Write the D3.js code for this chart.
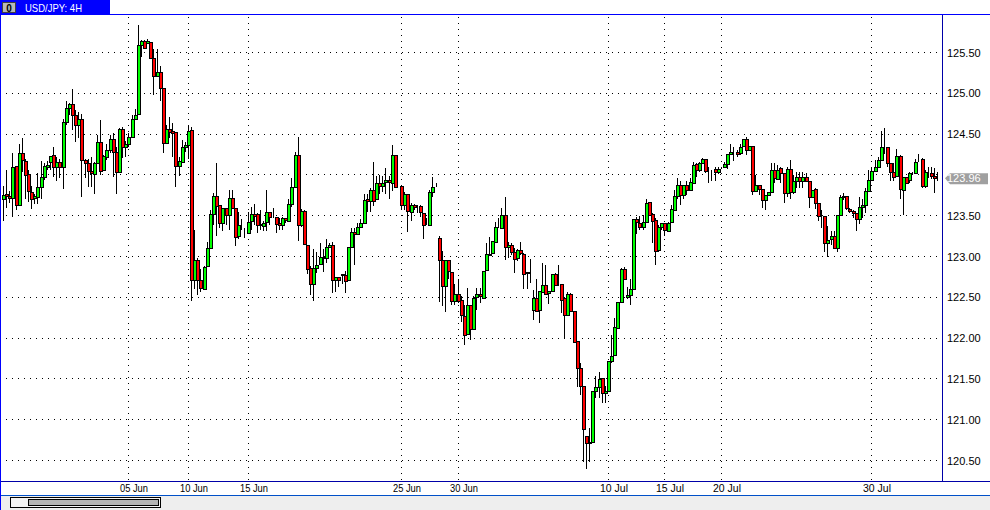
<!DOCTYPE html>
<html><head><meta charset="utf-8">
<script src="https://cdn.jsdelivr.net/npm/d3@7/dist/d3.min.js"></script>
<style>html,body{margin:0;padding:0;background:#fff;overflow:hidden}svg{display:block}text{font-family:"Liberation Sans",Arial,sans-serif}</style>
</head><body><svg id="c" width="990" height="510"></svg>
<script>
const symbol = "USD/JPY: 4H";
const lastPrice = 123.96;
const priceTicks = [120.5,121,121.5,122,122.5,123,123.5,124,124.5,125,125.5];
const dateTickIndex = [40,59,78,127,145,193,211,229,277];
const dateLabels = ["05 Jun","10 Jun","15 Jun","25 Jun","30 Jun","10 Jul","15 Jul","20 Jul","30 Jul"];
const opens = [
123.70,123.76,123.74,123.71,124.10,123.62,124.26,124.17,124.00,123.79,
123.71,123.73,123.85,123.97,124.10,124.16,124.24,124.09,124.15,124.09,
124.64,124.81,124.86,124.73,124.61,124.68,124.18,124.14,124.04,124.01,
124.14,124.40,124.05,124.22,124.30,124.43,124.27,124.03,124.56,124.33,
124.37,124.46,124.68,124.73,125.58,125.63,125.62,125.62,125.43,125.21,
125.26,125.06,124.39,124.56,124.53,124.52,124.10,124.16,124.34,124.36,
124.54,122.70,122.95,122.70,122.60,122.88,123.10,123.52,123.74,123.63,
123.41,123.59,123.50,123.71,123.59,123.24,123.39,123.285,123.29,123.42,
123.52,123.52,123.38,123.37,123.42,123.54,123.485,123.48,123.40,123.38,
123.46,123.43,123.64,123.85,124.24,123.38,123.55,123.14,122.85,122.66,
122.85,122.90,122.99,122.98,123.11,123.13,122.70,122.74,122.78,122.77,
122.70,123.11,123.29,123.27,123.36,123.41,123.70,123.68,123.81,123.70,
123.90,123.86,123.90,123.93,123.90,124.24,null,123.86,123.63,123.76,
123.55,123.63,123.60,123.61,123.53,123.38,123.38,123.79,123.85,123.225,
122.95,122.63,122.95,122.81,122.455,122.54,122.455,122.27,122.04,122.40,
122.11,122.49,122.53,122.49,122.82,123.02,123.03,123.18,123.36,123.35,
123.505,123.11,123.14,123.05,122.97,123.07,123.03,122.785,122.815,122.34,
122.49,122.33,122.565,122.65,122.54,122.58,122.785,122.655,122.655,122.48,
122.28,122.54,122.33,121.955,121.625,121.41,120.80,120.71,120.71,121.34,
121.39,121.50,121.32,121.34,121.71,121.78,122.125,122.44,122.84,122.50,
122.52,122.59,123.45,123.41,123.36,123.42,123.66,123.52,123.44,123.07,
123.35,123.40,123.31,123.41,123.57,123.74,123.87,123.75,123.87,123.81,
123.905,124.125,124.05,124.14,124.19,124.05,124.05,124.07,124.03,124.085,
124.09,124.13,124.25,124.26,124.27,124.26,124.345,124.435,124.30,124.345,
123.795,123.87,123.82,123.685,123.75,123.785,124.05,123.955,124.08,124.02,
123.775,124.07,123.79,123.925,123.97,123.925,123.97,123.925,123.726,123.82,
123.645,123.49,123.49,123.16,123.205,123.245,123.10,123.50,123.72,123.73,
123.58,123.55,123.53,123.457,123.604,123.63,123.80,123.93,124.04,124.09,
124.18,124.335,124.335,124.14,124.03,123.97,124.22,123.815,123.97,123.93,
124.02,124.02,124.16,124.19,123.855,124.03,124.02,123.985,123.96];
const highs = [
123.86,124.06,123.80,124.27,124.10,124.38,124.45,124.20,124.06,123.86,
123.77,124.02,124.165,124.15,124.17,124.23,124.34,124.22,124.20,124.68,
124.91,124.88,125.05,124.79,124.77,124.75,124.20,124.20,124.22,124.16,
124.49,124.67,124.24,124.38,124.49,124.51,124.34,124.57,124.59,124.42,
124.51,124.73,124.81,125.84,125.65,125.65,125.66,125.63,125.54,125.54,
125.34,125.06,124.61,124.71,124.63,124.53,124.22,124.43,124.40,124.61,
124.59,123.33,122.98,122.85,122.88,123.18,123.57,123.78,124.14,123.63,
123.59,123.60,123.82,123.81,123.59,123.55,123.46,123.35,123.55,123.61,
123.64,123.53,123.57,123.43,123.82,123.55,123.59,123.49,123.47,123.48,
123.47,123.70,123.96,124.28,124.46,123.58,123.57,123.14,122.88,123.09,
123.06,123.16,123.09,123.21,123.16,123.18,122.74,122.74,122.79,122.82,
123.11,123.35,123.35,123.41,123.46,123.77,123.77,123.84,124.16,123.99,
124.00,123.99,124.09,123.99,124.365,124.24,null,123.86,123.79,123.77,
123.65,123.64,123.63,123.63,123.53,123.47,123.82,123.98,123.90,123.25,
123.07,122.95,122.95,122.81,122.66,122.72,122.51,122.41,122.61,122.41,
122.51,122.61,122.61,122.82,123.16,123.24,123.18,123.42,123.47,123.59,
123.725,123.18,123.16,123.10,123.09,123.18,123.04,122.80,122.97,122.59,
122.72,122.565,122.92,122.90,122.57,122.785,122.80,122.89,122.66,122.49,
122.57,122.55,122.33,121.955,121.69,121.41,120.80,120.90,121.34,121.53,
121.58,121.51,121.41,121.71,122.04,122.25,122.44,122.86,122.87,122.63,
122.72,123.45,123.49,123.50,123.51,123.71,123.66,123.53,123.47,123.39,
123.40,123.40,123.42,123.63,123.81,123.96,123.92,123.88,123.92,123.96,
124.16,124.14,124.16,124.21,124.20,124.10,124.06,124.10,124.10,124.10,
124.16,124.26,124.38,124.34,124.30,124.38,124.44,124.47,124.35,124.35,
124.00,123.88,123.83,123.75,123.79,124.14,124.14,124.12,124.10,124.02,
124.10,124.18,124.00,124.04,124.04,124.04,124.02,123.93,123.81,123.84,
123.645,123.57,123.49,123.37,123.31,123.31,123.50,123.75,123.78,123.74,
123.59,123.57,123.53,123.725,123.71,123.84,124.06,124.10,124.18,124.22,
124.54,124.57,124.335,124.14,124.14,124.32,124.24,123.97,123.97,124.04,
124.04,124.20,124.26,124.21,124.06,124.10,124.10,124.08,124.04];
const lows = [
123.43,123.60,123.66,123.48,123.57,123.62,124.04,123.71,123.67,123.58,
123.64,123.64,123.70,123.94,124.06,124.06,123.98,123.92,123.96,123.83,
124.61,124.73,124.55,124.40,124.45,123.73,123.96,123.85,123.85,123.77,
124.14,124.00,124.05,124.18,124.27,123.97,123.77,124.03,124.21,124.22,
124.34,124.46,124.67,124.73,125.44,125.55,125.60,125.43,124.98,125.21,
124.91,124.27,124.39,124.45,124.22,123.85,123.99,124.14,124.28,124.20,
122.45,122.60,122.53,122.56,122.60,122.88,123.10,123.39,123.25,123.35,
123.31,123.39,123.33,123.59,123.13,123.22,123.33,123.225,123.29,123.33,
123.39,123.29,123.33,123.31,123.31,123.39,123.47,123.29,123.33,123.33,
123.41,123.43,123.61,123.85,123.19,123.36,123.14,122.79,122.53,122.46,
122.80,122.90,122.81,122.92,123.10,122.55,122.56,122.63,122.66,122.55,
122.70,123.11,122.90,123.27,123.36,123.41,123.54,123.54,123.62,123.70,
123.77,123.79,123.77,123.71,123.80,123.85,null,123.57,123.57,123.30,
123.43,123.57,123.53,123.48,123.22,123.38,123.38,123.73,123.85,122.44,
122.39,122.32,122.72,122.40,122.40,122.43,122.20,121.92,122.04,121.98,
122.11,122.35,122.43,122.49,122.82,123.02,123.03,123.18,123.35,123.35,
122.96,122.98,123.02,122.80,122.94,123.02,122.60,122.60,122.68,122.22,
122.33,122.19,122.565,122.53,122.42,122.57,122.655,122.64,122.31,122.00,
122.28,122.33,121.95,121.40,121.30,120.48,120.40,120.48,120.71,121.27,
121.27,121.20,121.20,121.34,121.70,121.78,122.125,122.44,122.72,122.48,
122.40,122.59,123.27,123.33,123.33,123.42,123.505,123.17,122.90,123.05,
123.33,123.25,123.30,123.41,123.57,123.71,123.63,123.71,123.75,123.81,
123.905,123.98,124.04,124.14,124.02,123.90,123.92,123.92,124.01,124.07,
124.08,124.07,124.25,124.17,124.22,124.25,124.34,124.24,124.30,123.75,
123.79,123.75,123.59,123.57,123.75,123.78,123.90,123.95,123.90,123.66,
123.73,123.71,123.77,123.84,123.84,123.84,123.92,123.59,123.726,123.58,
123.43,123.35,123.06,123.00,123.14,123.10,123.06,123.50,123.69,123.57,
123.53,123.47,123.315,123.40,123.47,123.53,123.80,123.92,124.04,124.09,
124.18,124.26,124.10,123.92,123.92,123.97,123.705,123.51,123.89,123.90,
124.00,124.02,124.16,123.84,123.84,123.96,123.945,123.78,123.92];
const closes = [
123.75,123.73,123.71,124.09,123.62,124.26,124.17,124.00,123.79,123.71,
123.73,123.85,123.97,124.10,124.12,124.23,124.09,124.15,124.09,124.64,
124.81,124.86,124.73,124.61,124.68,124.18,124.14,124.04,124.01,124.14,
124.40,124.05,124.22,124.30,124.43,124.27,124.03,124.56,124.34,124.37,
124.46,124.68,124.73,125.58,125.63,125.55,125.64,125.43,125.21,125.26,
125.06,124.39,124.56,124.52,124.51,124.10,124.16,124.34,124.36,124.53,
122.70,122.95,122.71,122.60,122.87,123.10,123.52,123.74,123.62,123.41,
123.59,123.50,123.71,123.59,123.24,123.38,123.385,123.29,123.42,123.51,
123.50,123.38,123.39,123.41,123.54,123.48,123.48,123.40,123.38,123.46,
123.43,123.64,123.85,124.24,123.38,123.55,123.14,122.85,122.66,122.85,
122.89,122.99,122.98,123.11,123.13,122.70,122.74,122.70,122.77,122.70,
123.11,123.29,123.26,123.36,123.41,123.69,123.68,123.81,123.68,123.90,
123.86,123.90,123.93,123.90,124.24,123.85,null,123.63,123.76,123.55,
123.63,123.60,123.60,123.54,123.38,123.385,123.79,123.85,123.85,122.95,
122.63,122.95,122.81,122.455,122.54,122.455,122.27,122.04,122.40,122.11,
122.49,122.53,122.50,122.82,123.02,123.03,123.18,123.36,123.36,123.505,
123.115,123.13,123.05,122.97,123.07,123.03,122.785,122.80,122.81,122.49,
122.33,122.565,122.65,122.54,122.57,122.785,122.655,122.66,122.46,122.27,
122.54,122.33,121.95,121.625,121.41,120.88,120.71,120.72,121.34,121.39,
121.49,121.32,121.34,121.71,121.77,122.125,122.44,122.84,122.72,122.52,
122.59,123.45,123.41,123.36,123.42,123.65,123.505,123.43,123.06,123.35,
123.40,123.31,123.41,123.57,123.74,123.87,123.75,123.87,123.81,123.905,
124.12,124.05,124.14,124.19,124.04,124.05,124.05,124.03,124.07,124.09,
124.13,124.25,124.27,124.26,124.25,124.335,124.435,124.30,124.345,123.795,
123.87,123.815,123.685,123.75,123.785,124.05,123.955,124.06,124.02,123.775,
124.07,123.79,123.925,123.97,123.925,123.97,123.925,123.726,123.81,123.645,
123.49,123.49,123.165,123.20,123.245,123.10,123.50,123.72,123.73,123.58,
123.55,123.52,123.457,123.604,123.63,123.80,123.93,124.04,124.09,124.18,
124.335,124.335,124.14,124.03,123.97,124.22,123.815,123.97,123.90,124.02,
124.02,124.15,124.16,123.855,124.03,124.03,123.985,123.96,123.96];

const svg = d3.select("#c").attr("shape-rendering","crispEdges");
const x = d3.scaleLinear().domain([0,298]).range([3.5,937.7]);
const y = d3.scaleLinear().domain([120.5,125.5]).range([460.5,52.5]);
const px = v => Math.floor(v)+0.5;
const blue = "#0000ff", navy = "#0000a8";

svg.append("rect").attr("width",990).attr("height",510).attr("fill","#fff");

// horizontal grid
svg.append("g").selectAll("line").data(priceTicks).join("line")
  .attr("x1",6).attr("x2",938).attr("y1",d=>px(y(d))).attr("y2",d=>px(y(d)))
  .attr("stroke","#000").attr("stroke-dasharray","1 5");
// vertical grid
svg.append("g").selectAll("line").data(dateTickIndex).join("line")
  .attr("x1",d=>px(x(d))+0.3).attr("x2",d=>px(x(d))+0.3).attr("y1",17).attr("y2",480)
  .attr("stroke","#000").attr("stroke-dasharray","1 5");

// candles
const idx = d3.range(opens.length).filter(i=>opens[i]!==null);
const g = svg.append("g");
g.selectAll("line").data(idx).join("line")
  .attr("x1",i=>px(x(i))).attr("x2",i=>px(x(i)))
  .attr("y1",i=>Math.round(y(highs[i]))).attr("y2",i=>Math.round(y(lows[i])))
  .attr("stroke","#000");
g.selectAll("rect").data(idx).join("rect")
  .attr("x",i=>px(x(i))-1)
  .attr("width",3)
  .attr("y",i=>px(y(Math.max(opens[i],closes[i]))))
  .attr("height",i=>Math.max(0,Math.round(y(Math.min(opens[i],closes[i]))-y(Math.max(opens[i],closes[i])))))
  .attr("fill",i=>closes[i]>=opens[i]?"#00ff00":"#ff0000")
  .attr("stroke","#000");

// frame
const lines = [[0,14,990,14,blue],[942,14,942,481,navy],[0,481,990,481,navy],[0,495,990,495,"#0050c8"]];
svg.append("g").selectAll("line").data(lines).join("line")
  .attr("x1",d=>d[0]+.5).attr("x2",d=>d[2]+.5).attr("y1",d=>d[1]+.5).attr("y2",d=>d[3]+.5)
  .attr("stroke",d=>d[4]);
svg.append("rect").attr("x",0).attr("y",0).attr("width",1).attr("height",510).attr("fill",blue);

// title tab
svg.append("rect").attr("x",0).attr("y",0).attr("width",110).attr("height",14).attr("fill",blue);
svg.append("rect").attr("x",2.5).attr("y",2.5).attr("width",13).attr("height",10).attr("fill","#b8b8b8").attr("stroke","#404040");
svg.append("text").attr("x",9).attr("y",11.5).attr("text-anchor","middle").attr("font-size",10).attr("font-weight","bold").attr("fill","#000").text("0");
svg.append("text").attr("x",25).attr("y",11.5).attr("font-size",11).attr("textLength",57).attr("lengthAdjust","spacingAndGlyphs").attr("fill","#fff").text(symbol);

// right axis: the last-price tag takes the place of the tick it covers
svg.append("g").selectAll("text").data(priceTicks.filter(d=>Math.abs(d-lastPrice)>0.1)).join("text")
  .attr("x",947).attr("y",d=>y(d)+4).attr("font-size",11).attr("fill","#000").text(d=>d.toFixed(2));

// last-price tag
const ly = y(lastPrice);
svg.append("polygon").attr("shape-rendering","auto")
  .attr("points",[[945,ly],[950,ly-5],[988,ly-5],[988,ly+6],[950,ly+6]].join(" ")).attr("fill","#a0a0a0");
svg.append("text").attr("x",947).attr("y",ly+4).attr("font-size",11).attr("fill","#fff").text(lastPrice.toFixed(2));

// date labels
svg.append("g").selectAll("text").data(dateLabels).join("text")
  .attr("x",(d,i)=>px(x(dateTickIndex[i]))+5.5).attr("y",492).attr("text-anchor","middle").attr("font-size",10).attr("textLength",28).attr("lengthAdjust","spacingAndGlyphs").attr("fill","#000").text(d=>d);

// scrollbar strip
svg.append("rect").attr("x",1).attr("y",496).attr("width",989).attr("height",14).attr("fill","#eeeeee");
svg.append("rect").attr("x",10.5).attr("y",497.5).attr("width",150).attr("height",10).attr("fill","#f4f4f4").attr("stroke","#000");
svg.append("rect").attr("x",28.5).attr("y",499.5).attr("width",130).attr("height",6).attr("fill","#b4b4b4").attr("stroke","#000");
</script></body></html>
